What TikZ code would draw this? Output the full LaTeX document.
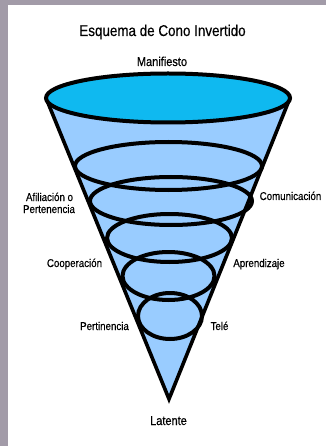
\documentclass[tikz,border=0pt]{standalone}
\usepackage{fontspec}
\setmainfont{Liberation Sans}[FakeStretch=0.86,FakeBold=0.4]
\definecolor{bggray}{RGB}{162,155,168}
\definecolor{coneblue}{RGB}{153,204,255}
\definecolor{topcyan}{RGB}{15,185,240}
\begin{document}
\begin{tikzpicture}[x=1pt,y=-1pt,
  ring/.style={draw=black,line width=4pt},
  lbl/.style={font=\fontsize{11.3}{13}\selectfont,inner sep=0pt,anchor=base},
  lblbig/.style={font=\fontsize{12.8}{15}\selectfont,inner sep=0pt,anchor=base},
  ttl/.style={font=\fontsize{15.6}{18}\selectfont,inner sep=0pt,anchor=base}]
\useasboundingbox (0,0) rectangle (326,446);
\fill[bggray] (0,0) rectangle (326,446);
\fill[white] (8,5) rectangle (326,446);
% cone body
\fill[coneblue] (46,98) -- (169,399) -- (290,98) -- cycle;
% inner rings
\draw[ring] (168.5,166) ellipse [x radius=93.5, y radius=24];
\draw[ring] (171,201) ellipse [x radius=81, y radius=24];
\draw[ring] (169.5,238) ellipse [x radius=62.5, y radius=24];
\draw[ring] (168.5,276) ellipse [x radius=46, y radius=24];
\draw[ring] (170,316) ellipse [x radius=32, y radius=23];
% cone sides
\draw[line width=3.6pt,line join=miter] (46,98) -- (169,399) -- (290,98);
% top
\filldraw[fill=topcyan,ring] (168,98) ellipse [x radius=122, y radius=24.5];
% texts
\node[ttl] (title) at (162.5,36) {Esquema de Cono Invertido};
\node[lblbig] (manif) at (162,66) {Manifiesto};
\node[lbl] (afil1) at (49.5,201) {Afiliación o};
\node[lbl] (afil2) at (49,213) {Pertenencia};
\node[lbl] (comu) at (290.5,200) {Comunicación};
\node[lbl] (coop) at (74.5,267) {Cooperación};
\node[lbl] (apre) at (259,267) {Aprendizaje};
\node[lbl] (pert) at (104.5,330) {Pertinencia};
\node[lbl] (tele) at (219.5,330) {Telé};
\node[lblbig] (lat) at (168.5,425) {Latente};
\end{tikzpicture}
\end{document}
